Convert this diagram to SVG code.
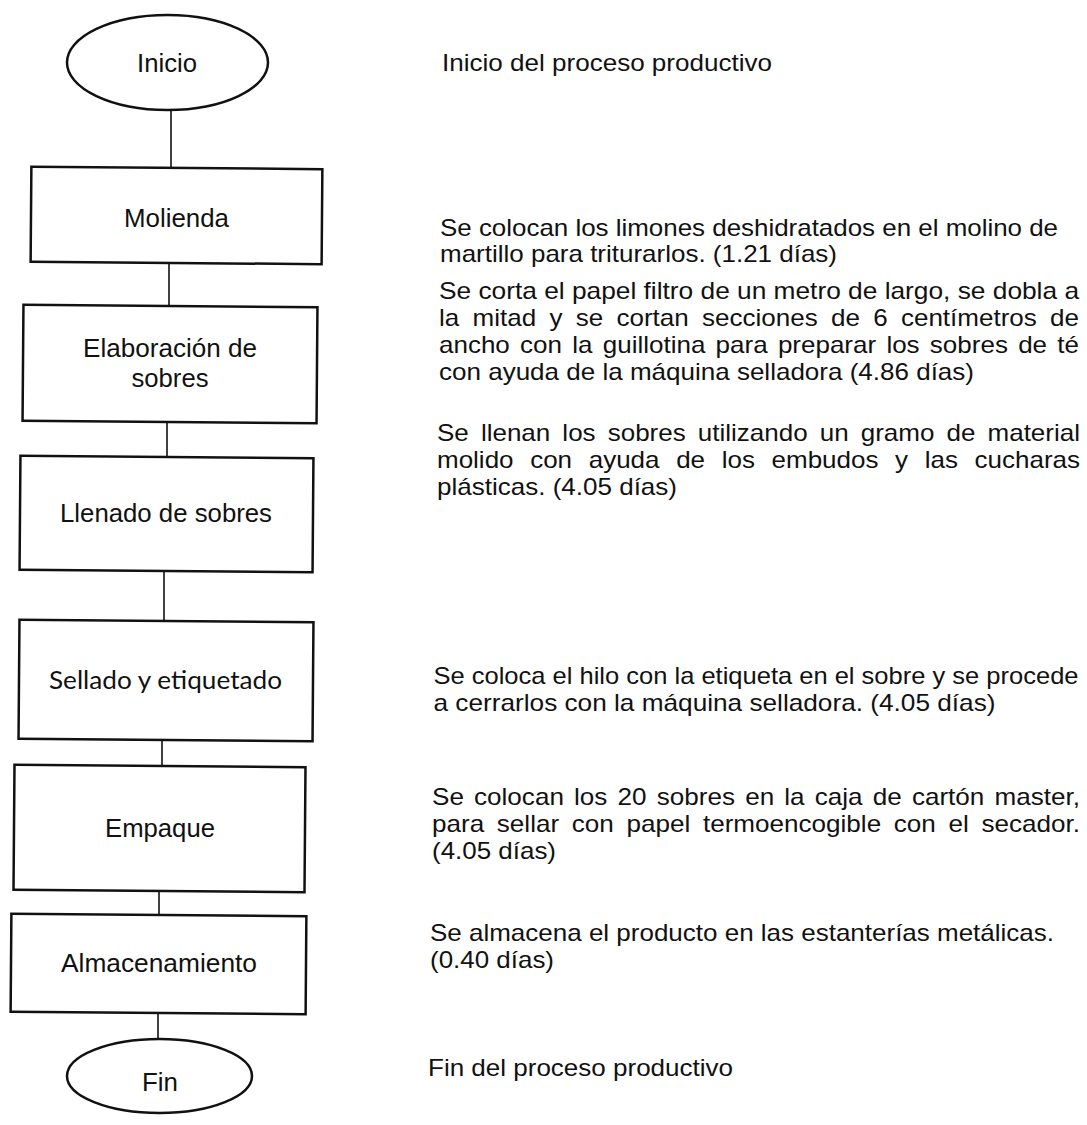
<svg xmlns="http://www.w3.org/2000/svg" width="1087" height="1125" viewBox="0 0 1087 1125">
<style>
.shape{fill:#fff;stroke:#111;stroke-width:2.5}
.conn line{stroke:#111;stroke-width:1.6}
.lbl{font-family:"Liberation Sans",Arial,sans-serif;font-size:25px;fill:#111;text-anchor:middle}
.lbl2{font-family:Lato,"Open Sans",sans-serif;font-size:25px;fill:#111;text-anchor:middle}
.desc{font-family:"Liberation Sans",Arial,sans-serif;font-size:24px;fill:#111}
</style>
<rect width="1087" height="1125" fill="#fff"/>
<g id="connectors" class="conn">
<line x1="171" y1="110" x2="171" y2="168"/>
<line x1="169" y1="263" x2="169" y2="306"/>
<line x1="167" y1="422" x2="167" y2="457"/>
<line x1="164" y1="571" x2="164" y2="621"/>
<line x1="162" y1="740" x2="162" y2="766"/>
<line x1="159" y1="891" x2="159" y2="915"/>
<line x1="158" y1="1013" x2="158" y2="1039"/>
</g>
<g id="inicio">
<ellipse class="shape" cx="167.5" cy="62.5" rx="100.5" ry="47.5"/>
<text class="lbl" x="167" y="72" textLength="60" lengthAdjust="spacingAndGlyphs">Inicio</text>
</g>
<g id="molienda">
<rect class="shape" x="31" y="168" width="291" height="95" transform="rotate(0.45 176.5 215.5)"/>
<text class="lbl" x="176.5" y="227" textLength="105" lengthAdjust="spacingAndGlyphs">Molienda</text>
</g>
<g id="elaboracion">
<rect class="shape" x="23" y="306" width="294" height="116" transform="rotate(0.45 170 364)"/>
<text class="lbl" x="170" y="357" textLength="174" lengthAdjust="spacingAndGlyphs">Elaboración de</text>
<text class="lbl" x="170" y="387" textLength="77" lengthAdjust="spacingAndGlyphs">sobres</text>
</g>
<g id="llenado">
<rect class="shape" x="20" y="457" width="293" height="114" transform="rotate(0.45 166.5 514)"/>
<text class="lbl" x="166" y="522" textLength="212" lengthAdjust="spacingAndGlyphs">Llenado de sobres</text>
</g>
<g id="sellado">
<rect class="shape" x="19" y="621" width="294" height="119" transform="rotate(0.45 166 680.5)"/>
<text class="lbl2" x="165.5" y="689" textLength="233" lengthAdjust="spacingAndGlyphs">Sellado y etiquetado</text>
</g>
<g id="empaque">
<rect class="shape" x="14" y="766" width="291" height="125" transform="rotate(0.45 159.5 828.5)"/>
<text class="lbl" x="160" y="837" textLength="110" lengthAdjust="spacingAndGlyphs">Empaque</text>
</g>
<g id="almacenamiento">
<rect class="shape" x="11" y="915" width="295" height="98" transform="rotate(0.45 158.5 964)"/>
<text class="lbl" x="159" y="972" textLength="196" lengthAdjust="spacingAndGlyphs">Almacenamiento</text>
</g>
<g id="fin">
<ellipse class="shape" cx="159.5" cy="1076" rx="92.5" ry="37"/>
<text class="lbl" x="160" y="1091" textLength="36" lengthAdjust="spacingAndGlyphs">Fin</text>
</g>
<g id="descripciones" class="desc">
<text x="442" y="71" textLength="330" lengthAdjust="spacingAndGlyphs">Inicio del proceso productivo</text>
<text x="440" y="236" textLength="618" lengthAdjust="spacingAndGlyphs">Se colocan los limones deshidratados en el molino de</text>
<text x="440" y="262" textLength="397" lengthAdjust="spacingAndGlyphs">martillo para triturarlos. (1.21 días)</text>
<text x="439" y="299" textLength="640" lengthAdjust="spacingAndGlyphs">Se corta el papel filtro  de un metro de largo, se dobla a</text>
<text x="439" y="326" word-spacing="5.6" textLength="640" lengthAdjust="spacingAndGlyphs">la mitad y se cortan secciones de 6 centímetros de</text>
<text x="439" y="353" word-spacing="2.8" textLength="640" lengthAdjust="spacingAndGlyphs">ancho con la guillotina para preparar los sobres de té</text>
<text x="439" y="380" textLength="535" lengthAdjust="spacingAndGlyphs">con ayuda de la máquina selladora (4.86 días)</text>
<text x="437" y="441" word-spacing="4.5" textLength="643" lengthAdjust="spacingAndGlyphs">Se llenan los sobres utilizando un gramo de material</text>
<text x="437" y="468" word-spacing="8.7" textLength="643" lengthAdjust="spacingAndGlyphs">molido con ayuda de los embudos y las cucharas</text>
<text x="437" y="495" textLength="240" lengthAdjust="spacingAndGlyphs">plásticas. (4.05 días)</text>
<text x="433.5" y="684" textLength="645" lengthAdjust="spacingAndGlyphs">Se coloca el hilo con la etiqueta en el sobre  y se procede</text>
<text x="433.5" y="711" textLength="562" lengthAdjust="spacingAndGlyphs">a cerrarlos con la máquina selladora. (4.05 días)</text>
<text x="432" y="805" word-spacing="2.7" textLength="648" lengthAdjust="spacingAndGlyphs">Se colocan los 20 sobres en la caja de cartón master,</text>
<text x="432" y="832" word-spacing="5" textLength="648" lengthAdjust="spacingAndGlyphs">para sellar con papel termoencogible con el secador.</text>
<text x="432" y="859" textLength="124" lengthAdjust="spacingAndGlyphs">(4.05 días)</text>
<text x="430" y="941" textLength="624" lengthAdjust="spacingAndGlyphs">Se almacena el producto en las estanterías metálicas.</text>
<text x="430" y="968" textLength="124" lengthAdjust="spacingAndGlyphs">(0.40 días)</text>
<text x="428" y="1076" textLength="305" lengthAdjust="spacingAndGlyphs">Fin del proceso productivo</text>
</g>
</svg>
